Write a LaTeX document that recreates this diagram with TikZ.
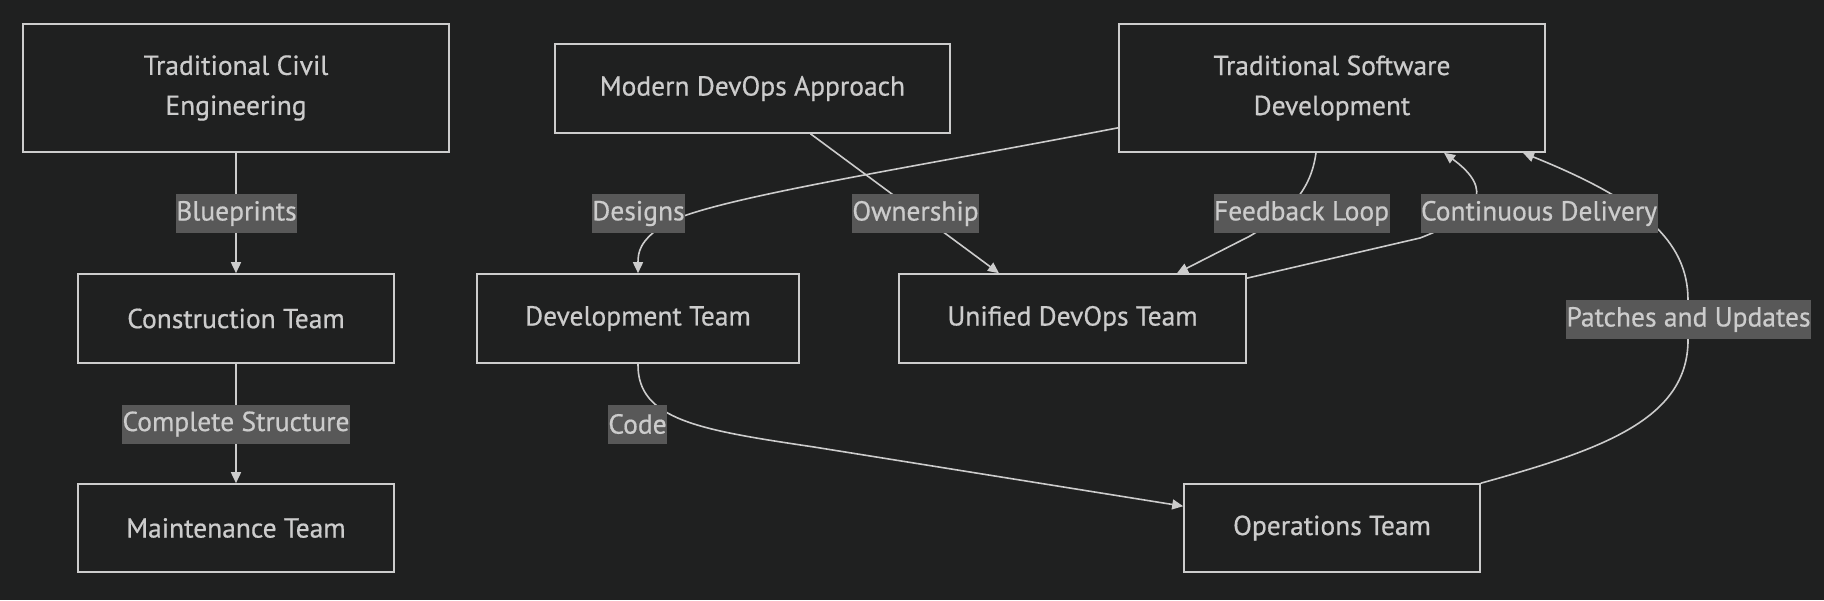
\documentclass[tikz,border=0pt]{standalone}
\usepackage{fontspec}
\setmainfont{PT Sans}[FakeBold=0.6]
\usetikzlibrary{arrows.meta}
\definecolor{bgc}{HTML}{1F2020}
\definecolor{fg}{HTML}{CCCCCC}
\definecolor{lblbg}{HTML}{585858}
\pgfdeclarelayer{bglayer}
\pgfdeclarelayer{edgelayer}
\pgfsetlayers{bglayer,edgelayer,main}
\tikzset{
  box/.style={draw=fg, fill=bgc, line width=1.6pt, text=fg, align=center,
    font=\fontsize{27.5}{40}\selectfont, inner sep=0pt},
  lbl/.style={fill=lblbg, text=fg, font=\fontsize{27.5}{40}\selectfont,
    inner xsep=0.5pt, inner ysep=0pt, minimum height=39pt},
  edge/.style={draw=fg, line width=1.6pt, -{Triangle[length=11pt,width=10pt]}},
}
\begin{document}
\begin{tikzpicture}[x=1pt,y=-1pt]
\begin{pgfonlayer}{bglayer}
\fill[bgc] (0,0) rectangle (1824,600);
\end{pgfonlayer}
\useasboundingbox (0,0) rectangle (1824,600);

% main nodes
\node[box, minimum width=426pt, minimum height=128pt] (civil) at (236,88) {Traditional Civil\\Engineering};
\node[box, minimum width=395pt, minimum height=89pt] (modern) at (752.5,88.5) {Modern DevOps Approach};
\node[box, minimum width=426pt, minimum height=128pt] (trad) at (1332,88) {Traditional Software\\Development};
\node[box, minimum width=316pt, minimum height=89pt] (constr) at (236,318.5) {Construction Team};
\node[box, minimum width=322pt, minimum height=89pt] (dev) at (638,318.5) {Development Team};
\node[box, minimum width=347pt, minimum height=89pt] (unified) at (1072.5,318.5) {Unified DevOps Team};
\node[box, minimum width=316pt, minimum height=88pt] (maint) at (236,528) {Maintenance Team};
\node[box, minimum width=296pt, minimum height=88pt] (ops) at (1332,528) {Operations Team};

% edge labels
\node[lbl] (lblue) at (236.5,213.5) {Blueprints};
\node[lbl] (ldes) at (638.5,213.5) {Designs};
\node[lbl] (lown) at (915.5,213.5) {Ownership};
\node[lbl] (lfeed) at (1301.5,213.5) {Feedback Loop};
\node[lbl] (lcd) at (1539,213.5) {Continuous Delivery};
\node[lbl] (lpat) at (1688.5,319.5) {Patches and Updates};
\node[lbl] (lcomp) at (236,424) {Complete Structure};
\node[lbl] (lcode) at (637.5,424) {Code};

% connectors
\begin{pgfonlayer}{edgelayer}
\draw[edge] (civil.south) -- (constr.north);
\draw[edge] (constr.south) -- (maint.north);
\draw[edge] ([yshift=25pt]trad.south west) .. controls (900,170) and (700,200) .. (662,226)
   .. controls (640,241) and (638,252) .. (dev.north);
\draw[edge] ([xshift=58pt]modern.south) -- ([xshift=-73.5pt]unified.north);
\draw[edge] ([xshift=-16pt]trad.south) .. controls (1311,190) and (1290,212) .. (1250,236)
   -- ([xshift=104.5pt]unified.north);
\draw[edge] ([yshift=-5pt]unified.north east) -- (1420,238)
   .. controls (1480,215) and (1495,190) .. ([xshift=112pt]trad.south);
\draw[edge] (ops.north east) .. controls (1600,450) and (1688,420) .. (1688,340)
   -- (1688,300) .. controls (1688,240) and (1640,200) .. ([xshift=191pt]trad.south);
\draw[edge] (dev.south) .. controls (637,420) and (700,430) .. (814,447)
   -- ([yshift=-23pt]ops.north west);
\end{pgfonlayer}
\end{tikzpicture}
\end{document}
